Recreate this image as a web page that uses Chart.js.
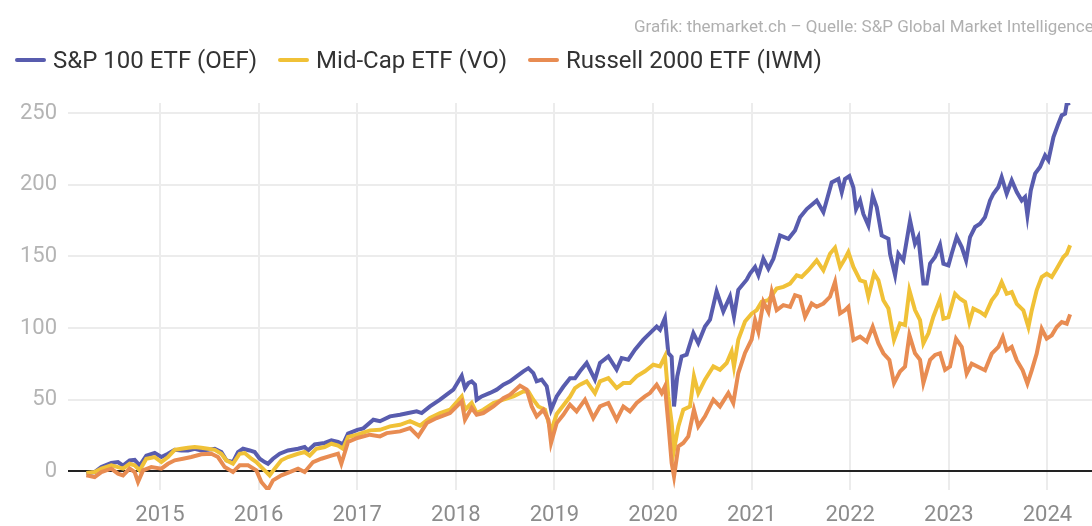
<!DOCTYPE html>
<html>
<head>
<meta charset="utf-8">
<script src="https://cdn.jsdelivr.net/npm/chart.js@4.4.1/dist/chart.umd.min.js"></script>
<style>
  html, body { margin: 0; padding: 0; background: #fff; overflow: hidden; }
  #wrap { position: relative; width: 1092px; height: 526px; }
  #source {
    position: absolute; left: 634px; top: 16px;
    font: 17px Roboto, sans-serif; color: #b0b0b0; white-space: nowrap;
  }
  #legend {
    position: absolute; left: 15px; top: 46px; display: flex;
    font: 24px Roboto, sans-serif; line-height: 28px; color: #333; white-space: nowrap;
  }
  #legend .item { display: flex; align-items: center; margin-right: 21px; }
  #legend .swatch { width: 31px; height: 3.5px; border-radius: 2px; margin-right: 7px; }
</style>
</head>
<body>
<div id="wrap">
  <canvas id="chart" width="1092" height="526"></canvas>
  <div id="source">Grafik: themarket.ch – Quelle: S&amp;P Global Market Intelligence</div>
  <div id="legend"></div>
</div>
<script>
// performance in %, dates as decimal years
const yearTicks = [2015, 2016, 2017, 2018, 2019, 2020, 2021, 2022, 2023, 2024];
const valueTicks = [0, 50, 100, 150, 200, 250];

const oefDates = [2014.253,2014.337,2014.405,2014.506,2014.574,2014.625,2014.692,2014.743,2014.794,2014.861,2014.946,
  2015.014,2015.081,2015.149,2015.216,2015.284,2015.352,2015.419,2015.487,2015.555,2015.622,2015.673,2015.740,2015.791,2015.842,2015.910,2015.960,
  2016.011,2016.062,2016.095,2016.146,2016.214,2016.298,2016.400,2016.467,2016.501,2016.569,2016.670,2016.738,2016.805,2016.856,2016.907,
  2017.001,2017.062,2017.164,2017.231,2017.333,2017.434,2017.519,2017.603,2017.654,2017.738,2017.840,2017.907,2017.975,
  2018.060,2018.093,2018.127,2018.161,2018.195,2018.212,2018.262,2018.347,2018.415,2018.482,2018.550,2018.617,2018.685,2018.736,2018.786,2018.820,2018.871,2018.922,2018.966,
  2019.023,2019.090,2019.158,2019.209,2019.259,2019.327,2019.411,2019.462,2019.547,2019.631,2019.682,2019.749,2019.817,2019.902,2019.969,
  2020.037,2020.071,2020.121,2020.155,2020.189,2020.213,2020.246,2020.290,2020.341,2020.409,2020.459,2020.527,2020.578,2020.645,2020.713,2020.781,2020.821,2020.865,2020.950,2020.984,
  2021.035,2021.069,2021.119,2021.170,2021.221,2021.288,2021.373,2021.440,2021.491,2021.559,2021.660,2021.728,2021.812,2021.880,2021.914,2021.947,2021.991,
  2022.032,2022.059,2022.100,2022.133,2022.184,2022.228,2022.269,2022.319,2022.387,2022.404,2022.455,2022.488,2022.539,2022.607,2022.657,2022.691,2022.742,2022.776,2022.810,2022.860,2022.911,2022.945,2022.996,
  2023.029,2023.080,2023.131,2023.175,2023.215,2023.266,2023.317,2023.367,2023.418,2023.452,2023.503,2023.536,2023.587,2023.638,2023.689,2023.739,2023.773,2023.797,2023.831,2023.875,2023.925,2023.976,
  2024.010,2024.061,2024.111,2024.145,2024.179,2024.196,2024.230];
const oefValues = [-1.6,-0.5,3,5.8,6.5,4,7.7,8,4,11,12.8,
  10,12.3,15,14.6,14.6,15.8,14.6,15,15.8,13.5,7.7,6.5,13.5,15.8,14.6,13.5,
  8.8,6.5,5.3,8.8,12.3,14.6,15.8,17,14.6,18.8,19.8,21.6,20.5,18.8,26.3,
  29,30,36,35,38.4,39.5,40.7,41.9,40.7,45.3,50,53.5,57,
  66.7,58,61.6,62.8,60.5,50,52.3,54.7,57,60.5,62.8,66.3,69.8,72,68.6,62.8,64,59.3,43,
  52.3,59,65,65,69.8,75.6,64,75.6,80.2,71,79,77.9,84.9,91.9,96.5,
  101,98.8,107,82.6,80,45.3,66.3,80.2,81.4,96.5,89.5,101,105.8,125.6,111.6,122,108,126.7,133.7,138,
  142.6,136.8,148.4,141.4,148.4,164.6,162.3,168,177.3,183,188.9,180.8,201.6,204,194.7,204,206,
  198,183,189,179.6,171.5,192.4,184.3,164.6,162.3,151.8,136.8,151.8,147.2,175,158.8,163.4,131,131,145,149.5,158,144.9,143.7,
  151.8,163.5,156.5,147.2,163.5,170.5,172.8,177.4,189,193.7,198.4,205.3,193.7,203,194.9,189,191.4,178.6,196,207.7,212.3,220.5,
  217,233.3,242.6,248.4,249.5,256.5,257];

const voDates = [2014.253,2014.337,2014.405,2014.506,2014.574,2014.625,2014.692,2014.743,2014.794,2014.861,2014.946,
  2015.014,2015.081,2015.149,2015.216,2015.284,2015.352,2015.419,2015.487,2015.555,2015.622,2015.673,2015.740,2015.808,2015.859,2015.927,2015.977,
  2016.028,2016.079,2016.112,2016.163,2016.231,2016.298,2016.400,2016.467,2016.518,2016.586,2016.670,2016.738,2016.805,2016.856,2016.907,
  2017.001,2017.130,2017.231,2017.333,2017.434,2017.536,2017.637,2017.738,2017.840,2017.941,
  2018.060,2018.093,2018.161,2018.212,2018.279,2018.381,2018.482,2018.584,2018.685,2018.736,2018.786,2018.837,2018.905,2018.966,
  2019.023,2019.090,2019.158,2019.209,2019.259,2019.327,2019.411,2019.462,2019.547,2019.631,2019.699,2019.766,2019.834,2019.918,
  2020.003,2020.071,2020.121,2020.155,2020.189,2020.213,2020.257,2020.307,2020.375,2020.415,2020.459,2020.527,2020.612,2020.679,2020.747,2020.797,2020.821,2020.865,2020.933,
  2021.000,2021.052,2021.102,2021.170,2021.254,2021.322,2021.390,2021.457,2021.508,2021.576,2021.660,2021.728,2021.795,2021.846,2021.897,2021.947,2021.981,
  2022.032,2022.100,2022.150,2022.184,2022.242,2022.286,2022.336,2022.387,2022.444,2022.505,2022.556,2022.600,2022.657,2022.708,2022.742,2022.793,2022.843,2022.911,2022.945,2022.996,
  2023.063,2023.114,2023.165,2023.208,2023.249,2023.317,2023.367,2023.435,2023.486,2023.536,2023.587,2023.638,2023.689,2023.756,2023.807,2023.841,2023.891,2023.942,2023.993,
  2024.044,2024.094,2024.162,2024.196,2024.230];
const voValues = [-1.2,-0.5,1.9,4.2,3,1.9,5.3,4.2,0.7,8.8,10,
  6.5,10,15,15.8,16.5,17,16.5,15.8,15,12.3,7.7,5.3,12.3,12.8,8.8,6.5,
  3,-0.5,-2.8,1.9,7.7,10,12.3,13.5,11,15.8,17,19.3,18,15.8,24,
  25.6,28.6,29,31.4,32.5,35,31.9,37.2,40.7,43,
  52.3,43,47.7,40.7,43,47.7,50,52.3,55.8,55.8,50,45.3,43,28,
  40,46,52,58.1,60.5,62.8,54.6,62.8,65,58.1,61.6,61.6,66.3,69.8,
  74.4,73.2,80.2,52.3,33.7,15.1,31.4,43,45.3,66.3,54.6,64,73.2,70.9,75.6,83.7,73.2,91.9,104.6,
  110,112.5,118.3,119.4,127.5,128.7,131,136.8,135.6,140.3,147.2,140.3,151.8,156,142.6,148.4,153,
  142.6,133.3,132.2,121.8,138,133.3,119.4,113.6,91.7,103.2,102.1,126.4,112.5,105.5,89.3,96.3,107.9,120,106.5,107.6,
  123.9,120.4,118.1,104.1,113.5,111.2,108.8,119.3,123.9,132,123.9,125.1,116.9,112.3,100.7,112.3,126.3,135.6,137.9,
  135.6,141.4,149.5,151.8,157.7];

const iwmDates = [2014.253,2014.337,2014.405,2014.506,2014.574,2014.625,2014.692,2014.743,2014.777,2014.828,2014.912,
  2015.014,2015.081,2015.149,2015.233,2015.318,2015.419,2015.521,2015.588,2015.656,2015.740,2015.808,2015.893,2015.977,
  2016.028,2016.095,2016.146,2016.231,2016.315,2016.400,2016.467,2016.552,2016.636,2016.738,2016.805,2016.839,2016.907,
  2017.001,2017.130,2017.231,2017.299,2017.434,2017.536,2017.620,2017.705,2017.806,2017.941,
  2018.060,2018.093,2018.161,2018.212,2018.279,2018.381,2018.482,2018.550,2018.651,2018.719,2018.770,2018.820,2018.888,2018.939,2018.966,
  2019.023,2019.090,2019.158,2019.225,2019.310,2019.394,2019.462,2019.547,2019.631,2019.699,2019.766,2019.834,2019.918,2019.969,
  2020.037,2020.088,2020.121,2020.155,2020.189,2020.213,2020.257,2020.307,2020.358,2020.415,2020.459,2020.527,2020.612,2020.679,2020.764,2020.814,2020.865,2020.933,
  2021.000,2021.035,2021.069,2021.119,2021.170,2021.204,2021.254,2021.322,2021.390,2021.440,2021.491,2021.542,2021.609,2021.660,2021.728,2021.795,2021.846,2021.897,2021.947,2021.981,
  2022.032,2022.100,2022.167,2022.228,2022.286,2022.336,2022.397,2022.444,2022.505,2022.556,2022.600,2022.657,2022.708,2022.742,2022.810,2022.860,2022.911,2022.962,
  2023.012,2023.073,2023.131,2023.181,2023.232,2023.300,2023.367,2023.435,2023.503,2023.547,2023.587,2023.638,2023.689,2023.749,2023.797,2023.841,2023.891,2023.942,2023.993,
  2024.044,2024.094,2024.145,2024.196,2024.230];
const iwmValues = [-2.8,-4,-0.5,1.9,-1.6,-2.8,1.9,-0.5,-7.4,0.7,3,
  1.9,5.3,7.7,8.8,10,11.9,12.3,10,3,-0.5,4.2,4.2,0.7,
  -7.4,-12.8,-6.3,-2.8,-0.5,1.9,-0.5,6.5,8.8,11,12.3,5.3,20.5,
  23.3,25.6,24.4,26.7,27.9,30.2,24.4,33.7,37.2,40.7,
  48.8,36,44.2,39.5,40.7,45.3,51,53.5,59.8,57,45.3,38.4,43,36,19.8,
  33.7,39.5,46.5,41.8,50,37.2,45.3,47.7,36,45.3,41.8,47.7,52.3,54.6,
  60.5,54.6,59.3,33.7,5.8,-3.5,17.4,19.8,24.4,43,31.4,38.4,50,45.3,54.6,47.7,68.6,82.6,
  92,105.5,97.4,118.3,111.3,125.2,112.5,116,114.8,122.9,121.8,107.9,117.1,114.8,117.1,121.8,132.2,110.2,112.5,114.8,
  91.7,94,90.5,100.9,89.3,82.4,77.8,61.6,69.7,73.1,95.1,82.4,77.8,61.6,77.8,81.2,82.4,70.8,
  73.1,92.6,86.8,68.2,75.1,72.8,70.5,82.1,86.8,93.7,84.4,86.8,77.5,70.5,61.2,70.5,82.1,99.5,92.6,
  94.9,100.7,104.2,103,109.5];

const seriesNames = ["S&P 100 ETF (OEF)", "Mid-Cap ETF (VO)", "Russell 2000 ETF (IWM)"];
const seriesColors = ["#585cae", "#f0c137", "#e88c52"];

function toPoints(dates, values) {
  return dates.map((d, i) => ({ x: d, y: values[i] }));
}

const FONT = "Roboto, 'Open Sans', sans-serif";

// legend as plain html so the spacing matches
const legendEl = document.getElementById("legend");
seriesNames.forEach((name, i) => {
  const item = document.createElement("div");
  item.className = "item";
  item.innerHTML = '<span class="swatch" style="background:' + seriesColors[i] + '"></span><span></span>';
  item.lastChild.textContent = name;
  legendEl.appendChild(item);
});

const lineStyle = { borderWidth: 4, pointRadius: 0, tension: 0 };

new Chart(document.getElementById("chart"), {
  type: "line",
  data: {
    datasets: [
      { label: seriesNames[0], data: toPoints(oefDates, oefValues), borderColor: seriesColors[0], order: 2, ...lineStyle },
      { label: seriesNames[1], data: toPoints(voDates, voValues), borderColor: seriesColors[1], order: 1, ...lineStyle },
      { label: seriesNames[2], data: toPoints(iwmDates, iwmValues), borderColor: seriesColors[2], order: 0, ...lineStyle }
    ]
  },
  options: {
    responsive: false,
    animation: false,
    layout: { padding: { top: 103, left: 0, right: 0, bottom: 0 } },
    plugins: {
      tooltip: { enabled: false },
      legend: { display: false }
    },
    scales: {
      x: {
        type: "linear",
        min: 2014.067,
        max: 2024.452,
        afterBuildTicks: s => { s.ticks = yearTicks.map(v => ({ value: v })); },
        afterFit: s => { s.height = 36; },
        border: { display: false },
        grid: { color: "#ececec", lineWidth: 2, drawTicks: false },
        ticks: {
          padding: 12,
          color: "#8c8c8c",
          font: { family: FONT, size: 22 },
          maxRotation: 0,
          callback: v => String(v)
        }
      },
      y: {
        min: -13,
        max: 257,
        afterBuildTicks: s => { s.ticks = valueTicks.map(v => ({ value: v })); },
        afterFit: s => { s.width = 68; },
        border: { display: false },
        grid: {
          drawTicks: false,
          color: c => (c.tick && c.tick.value === 0 ? "#222" : "#ececec"),
          lineWidth: 2
        },
        ticks: {
          padding: 11,
          color: "#b4b4b4",
          font: { family: FONT, size: 22 }
        }
      }
    }
  }
});
</script>
</body>
</html>
